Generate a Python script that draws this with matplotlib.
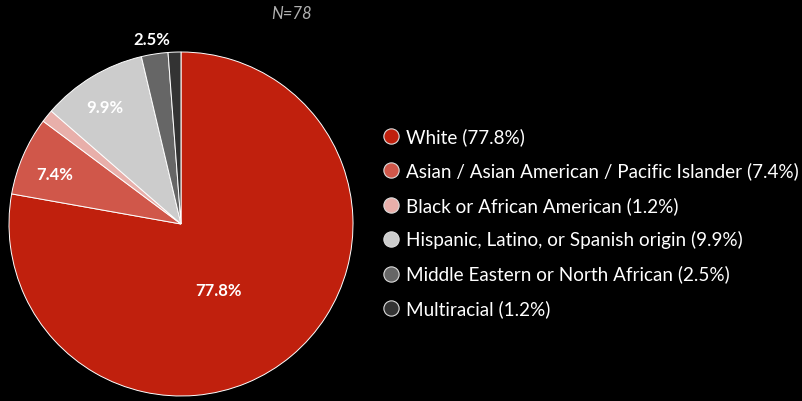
import numpy as np
import matplotlib.pyplot as plt

categories = [
    "White",
    "Asian / Asian American / Pacific Islander",
    "Black or African American",
    "Hispanic, Latino, or Spanish origin",
    "Middle Eastern or North African",
    "Multiracial",
]
percentages = [77.8, 7.4, 1.2, 9.9, 2.5, 1.2]
colors = ["#c0200d", "#d0574a", "#e8afaa", "#cccccc", "#666666", "#333333"]
# slice labels: which slices get a label, at what fraction of the radius,
# and an angular nudge (degrees) from the slice middle
label_radius = {0: 0.44, 1: 0.79, 3: 0.81, 4: 1.09}
label_nudge = {0: -10, 1: 2, 3: 2, 4: 0}
n_text = "N=78"

plt.rcParams["font.family"] = ["Lato", "DejaVu Sans"]

W, H = 802, 402
fig = plt.figure(figsize=(W / 100, H / 100), dpi=100, facecolor="black")
ax = fig.add_axes([0, 0, 1, 1])
ax.set_facecolor("black")

cx, cy, R = 181, 402 - 225, 172
wedges, _ = ax.pie(
    percentages,
    colors=colors,
    startangle=90,
    counterclock=False,
    center=(cx, cy),
    radius=R,
    wedgeprops=dict(edgecolor="white", linewidth=0.7),
    frame=True,
)
ax.set_xlim(0, W)
ax.set_ylim(0, H)
ax.set_aspect("equal")
ax.axis("off")

for i, w in enumerate(wedges):
    if i not in label_radius:
        continue
    ang = np.deg2rad((w.theta1 + w.theta2) / 2 + label_nudge[i])
    r = label_radius[i] * R
    ax.text(cx + r * np.cos(ang), cy + r * np.sin(ang), f"{percentages[i]:.1f}%",
            color="white", fontsize=12, fontweight="bold", ha="center", va="center")

ax.text(291, H - 14, n_text, color="#b0b0b0", fontsize=12, style="italic",
        ha="center", va="center")

# legend
lx, ly0, dy = 391, H - 137, 34.4
for i, (cat, p, c) in enumerate(zip(categories, percentages, colors)):
    y = ly0 - i * dy
    ax.plot([lx], [y], marker="o", markersize=11, markerfacecolor=c,
            markeredgecolor="#dddddd", markeredgewidth=0.8, linestyle="none")
    ax.text(lx + 15, y, f"{cat} ({p:.1f}%)", color="white", fontsize=13.6,
            ha="left", va="center")

fig.savefig("out.png", dpi=100, facecolor="black")
